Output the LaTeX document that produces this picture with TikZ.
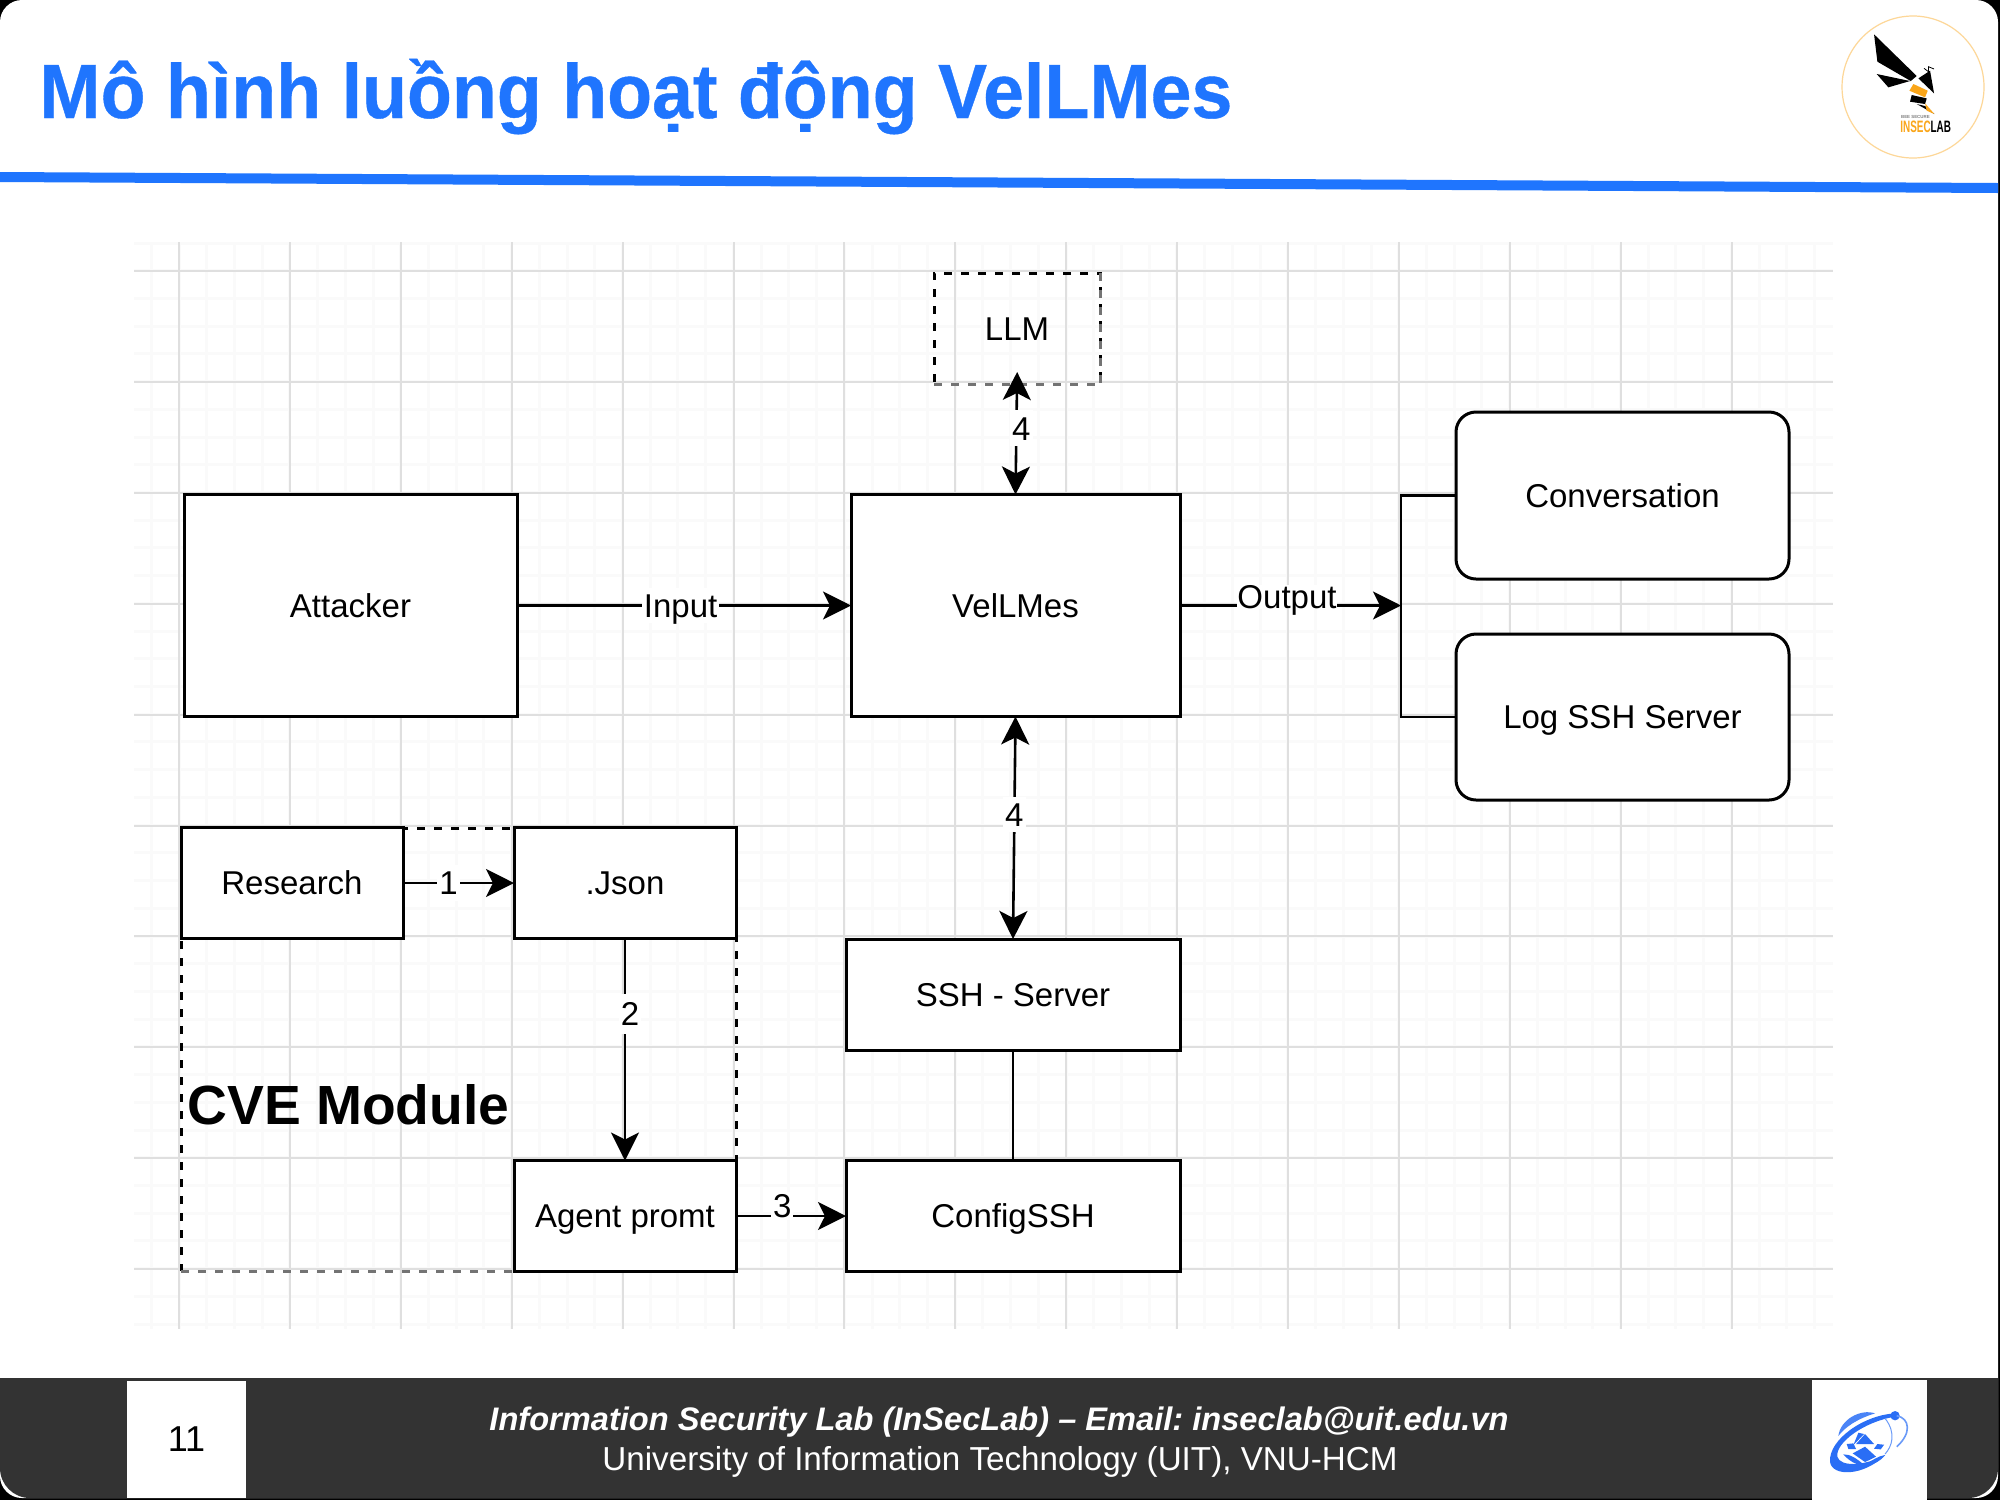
\documentclass[tikz,border=0pt]{standalone}
\usepackage{fontspec}
\setmainfont{Liberation Sans}
\newfontfamily\titlefont[BoldFeatures={FakeBold=0.5}]{Liberation Sans}
\usetikzlibrary{arrows.meta,calc}
\definecolor{titleblue}{HTML}{1F75FE}
\definecolor{footdark}{HTML}{333333}
\definecolor{gridmajor}{HTML}{DFDFDF}
\definecolor{gridminor}{HTML}{FAFAFA}
\definecolor{beeorange}{HTML}{FAA61A}
\definecolor{uitblue}{HTML}{2A6EF5}
\tikzset{
	box/.style={draw=black, fill=white, line width=1.5pt, outer sep=0pt, inner sep=0pt, text height=11.8pt, text depth=0pt, font=\fontsize{16.5}{18}\selectfont},
	softbox/.style={box, rounded corners=10pt},
	dashbox/.style={box, dash pattern=on 4pt off 4.5pt, fill=none},
	greyedge/.style={draw=black!55, line width=1.5pt, dash pattern=on 4pt off 4.5pt},
	link/.style={line width=1.3pt, -{Stealth[length=14pt,width=14pt,inset=3.5pt]}},
	linkboth/.style={line width=1.3pt, {Stealth[length=14pt,width=14pt,inset=3.5pt]}-{Stealth[length=14pt,width=14pt,inset=3.5pt]}},
	plainlink/.style={line width=1.3pt},
	tag/.style={fill=white, inner xsep=1pt, inner ysep=3pt, text height=11.8pt, text depth=0pt, font=\fontsize{16.5}{18}\selectfont}
}

\begin{document}
\frenchspacing
\begin{tikzpicture}[x=0.5pt, y=-0.5pt]
		%%%%% START %%%%%
		\useasboundingbox (0, 0) rectangle (2000, 1500);
		\fill[black] (0, 0) rectangle (2000, 1500);
		\fill[white, rounded corners=11pt] (0, 0) rectangle (1998, 1498);
		
		% header
		\node[anchor=base west, inner sep=0pt, text=titleblue, font=\fontsize{38.5}{40}\selectfont\titlefont\bfseries] (title) at (39, 118) {\scalebox{0.955}[1]{Mô hình luồng hoạt động VelLMes}};
		\fill[titleblue] (0, 172) -- (1998, 183) -- (1998, 193) -- (0, 182) -- cycle;
		
		% grid
		\foreach \i in {0,...,60}
			\draw[gridminor, line width=1.5pt] ({151.3+27.72*\i}, 242) -- ({151.3+27.72*\i}, 1329);
		\foreach \i in {0,...,39}
			\draw[gridminor, line width=1.5pt] (134, {243+27.72*\i}) -- (1833, {243+27.72*\i});
		\foreach \i in {0,...,14}
			\draw[gridmajor, line width=1pt] ({179+110.9*\i}, 242) -- ({179+110.9*\i}, 1329);
		\foreach \i in {0,...,9}
			\draw[gridmajor, line width=1pt] (134, {271+110.9*\i}) -- (1833, {271+110.9*\i});
		
		% cve module
		\node[dashbox, minimum width=277.5pt, minimum height=221.5pt] (cve) at (458.5, 1049.5) {};
		\draw[greyedge] (cve.south west) -- (cve.south east);
		\node[anchor=base west, inner sep=0pt, font=\fontsize{27.6}{29}\selectfont\bfseries] (cvetext) at (187, 1124) {CVE Module};
		
		% boxes
		\node[box, minimum width=166.5pt, minimum height=111pt] (attacker) at (350.5, 605.5) {Attacker};
		\node[box, minimum width=164.5pt, minimum height=111pt] (vellmes) at (1015.5, 605.5) {VelLMes};
		\node[dashbox, minimum width=83pt, minimum height=55.5pt] (llm) at (1017, 328.5) {LLM};
		\draw[greyedge] (llm.north east) -- (llm.south east);
		\draw[greyedge] (llm.south west) -- (llm.south east);
		\node[softbox, minimum width=166.5pt, minimum height=83.5pt] (conv) at (1622.5, 495.5) {Conversation};
		\node[softbox, minimum width=166.5pt, minimum height=83pt] (logssh) at (1622.5, 717) {Log SSH Server};
		\node[box, minimum width=111pt, minimum height=55.5pt] (research) at (292, 883) {Research};
		\node[box, minimum width=111pt, minimum height=55.5pt] (json) at (625, 883) {.Json};
		\node[box, minimum width=111pt, minimum height=55.5pt] (agent) at (625, 1216) {Agent promt};
		\node[box, minimum width=167pt, minimum height=55.5pt] (sshserver) at (1013, 994.5) {SSH - Server};
		\node[box, minimum width=167pt, minimum height=55.5pt] (configssh) at (1013, 1216) {ConfigSSH};
		
		% connectors
		\draw[link] (attacker) -- (vellmes) node[tag, pos=0.49] (input) {Input};
		\coordinate (outjoin) at (1401, 605.5);
		\draw[link] (vellmes) -- (outjoin);
		\node[tag, inner ysep=0pt, inner xsep=0pt] (output) at (1287, 597) {Output};
		\draw[plainlink] (conv.west) -- (outjoin |- conv.west) -- (outjoin |- logssh.west) -- (logssh.west);
		\draw[linkboth, shorten <=-6pt] (llm.south) -- (vellmes.north) node[tag, pos=0.4, xshift=2.5pt] (four) {4};
		\draw[linkboth] (vellmes.south) -- (sshserver.north) node[tag, pos=0.44] (fourb) {4};
		\draw[plainlink] (sshserver) -- (configssh);
		\draw[link] (research) -- (json) node[tag, pos=0.41] (one) {1};
		\draw[link] (json) -- (agent) node[tag, pos=0.34, xshift=2.5pt, inner ysep=4pt] (two) {2};
		\draw[link] (agent) -- (configssh) node[tag, pos=0.42, yshift=5pt, inner ysep=1pt] (three) {3};
		
		% insec logo
		\draw[beeorange!45, line width=0.6pt] (1913, 87) circle (71);
		\begin{scope}[shift={(1750, 0)}, x=0.1667pt, y=-0.1667pt]
			\fill[black] (372, 103) -- (382, 185) -- (482, 243) -- (500, 228) -- cycle;
			\fill[black] (380, 222) -- (415, 262) -- (480, 243) -- cycle;
			\fill[black] (505, 235) -- (540, 212) -- (552, 280) -- cycle;
			\draw[black, line width=0.4pt] (522, 205) -- (535, 215) -- (535, 200) -- (552, 207);
			\fill[beeorange] (490, 252) -- (533, 272) -- (525, 292) -- (478, 272) -- cycle;
			\fill[black] (485, 285) -- (530, 295) -- (525, 312) -- (480, 305) -- cycle;
			\fill[black] (500, 312) -- (525, 318) -- (553, 342) -- cycle;
			\fill[beeorange] (525, 310) -- (553, 342) -- (530, 332) -- cycle;
			\node[inner sep=0pt, font=\fontsize{2.2}{3}\selectfont\bfseries, text=gray] (beetext) at (496, 350) {BEE SECURE};
			\node[inner sep=0pt, font=\fontsize{7.5}{8}\selectfont\bfseries] (labtext) at (527, 380) {\scalebox{0.66}[1.1]{\textcolor{beeorange}{INSEC}\textcolor{black}{LAB}}};
		\end{scope}
		
		% footer
		\fill[footdark, rounded corners=15pt] (0, 1378) -- (1998, 1378) -- (1998, 1498) -- (0, 1498) -- cycle;
		\fill[footdark] (0, 1378) rectangle (1998, 1420);
		\node[fill=white, minimum width=59.5pt, minimum height=58.5pt, inner sep=0pt, outer sep=0pt, font=\fontsize{18}{20}\selectfont] (pagenum) at (186.5, 1439.5) {11};
		\node[fill=white, minimum width=57.5pt, minimum height=60pt, inner sep=0pt, outer sep=0pt] (uitbox) at (1869.5, 1440) {};
		\node[anchor=base, inner sep=0pt, text=white, font=\fontsize{16.3}{18}\selectfont\bfseries\itshape] (footone) at (999, 1430) {Information Security Lab (InSecLab) – Email: inseclab@uit.edu.vn};
		\node[anchor=base, inner sep=0pt, text=white, font=\fontsize{16.6}{18}\selectfont] (foottwo) at (1000, 1470) {University of Information Technology (UIT), VNU-HCM};
		
		% uit logo
		\begin{scope}[shift={(1750, 1350)}, x=0.1667pt, y=-0.1667pt]
			\fill[uitblue] (435, 190) .. controls (340, 195) and (235, 270) .. (240, 335) .. controls (245, 380) and (340, 380) .. (405, 315) .. controls (340, 350) and (270, 350) .. (262, 320) .. controls (255, 280) and (340, 215) .. (435, 200) -- cycle;
			\fill[uitblue] (435, 197) circle (14);
			\draw[uitblue!70, line width=0.8pt] (440, 197) .. controls (480, 205) and (485, 250) .. (440, 290);
			\draw[uitblue!70, line width=0.5pt] (405, 205) .. controls (440, 250) and (425, 290) .. (405, 312);
			\fill[uitblue!85] (265, 258) .. controls (270, 210) and (330, 175) .. (375, 190) .. controls (325, 205) and (285, 230) .. (265, 258) -- cycle;
			\fill[uitblue] (345, 252) -- (372, 282) -- (318, 282) -- cycle;
			\fill[uitblue] (325, 248) -- (342, 252) -- (310, 285) -- cycle;
			\fill[uitblue] (290, 282) -- (310, 280) -- (318, 297) -- (295, 297) -- cycle;
			\fill[uitblue] (382, 282) -- (402, 284) -- (392, 298) -- (372, 296) -- cycle;
			\fill[uitblue] (308, 310) -- (345, 290) -- (378, 320) -- (345, 336) -- cycle;
			\fill[uitblue] (280, 313) .. controls (300, 312) and (320, 325) .. (345, 347) .. controls (315, 345) and (295, 330) .. (280, 313) -- cycle;
			\fill[uitblue] (405, 315) .. controls (385, 318) and (365, 330) .. (345, 347) .. controls (370, 345) and (395, 330) .. (405, 315) -- cycle;
		\end{scope}
		%%%%% END %%%%%
	\end{tikzpicture}
\end{document}
